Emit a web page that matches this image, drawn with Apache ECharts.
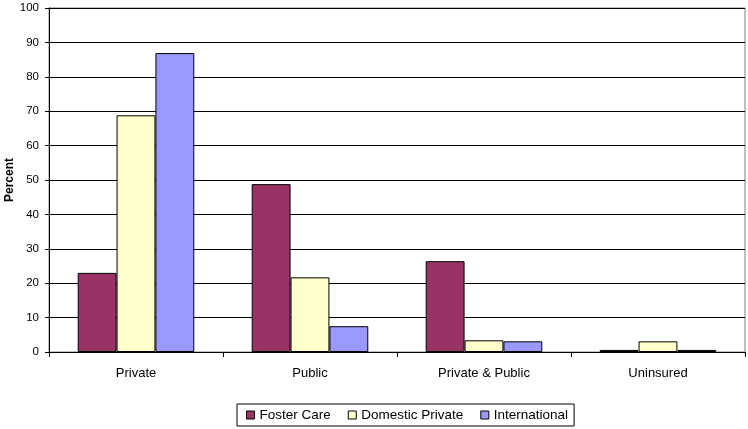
<!DOCTYPE html>
<html>
<head>
<meta charset="utf-8">
<script src="https://cdn.jsdelivr.net/npm/echarts@6/dist/echarts.min.js"></script>
<style>
html,body{margin:0;padding:0;background:#fff;}
#c{width:748px;height:429px;}
</style>
</head>
<body>
<div id="c"></div>
<script>
const categories = ['Private', 'Public', 'Private & Public', 'Uninsured'];
const fosterCare = [23, 48.8, 26.4, 0.6];
const domesticPrivate = [68.8, 21.7, 3.4, 3.1];
const international = [86.9, 7.5, 3.1, 0.6];
const seriesNames = ['Foster Care', 'Domestic Private', 'International'];
const seriesColors = ['#993366', '#FFFFCC', '#9999FF'];

const font = 'Liberation Sans, Arial, sans-serif';
const chart = echarts.init(document.getElementById('c'));
const values = [fosterCare, domesticPrivate, international];
chart.setOption({
  backgroundColor: '#ffffff',
  animation: false,
  textStyle: { fontFamily: font },
  grid: { left: 49, right: 3, top: 8, bottom: 77, containLabel: false, outerBoundsMode: 'none', show: true, borderColor: '#808080', borderWidth: 1 },
  legend: {
    left: 237, top: 404,
    padding: [4, 6, 4, 9],
    borderColor: '#000', borderWidth: 1,
    itemWidth: 8, itemHeight: 8, itemGap: 17,
    icon: 'rect',
    textStyle: { fontFamily: font, fontSize: 13.5, color: '#000' },
    data: seriesNames.map((n, i) => ({ name: n, itemStyle: { color: seriesColors[i], borderColor: '#000', borderWidth: 1 } }))
  },
  xAxis: {
    type: 'category',
    data: categories,
    axisLine: { lineStyle: { color: '#000', width: 1 } },
    axisTick: { show: true, length: 5, lineStyle: { color: '#000' } },
    axisLabel: { color: '#000', fontFamily: font, fontSize: 13, margin: 15 }
  },
  yAxis: {
    type: 'value',
    min: 0, max: 100, interval: 10,
    name: 'Percent',
    nameLocation: 'middle',
    nameRotate: 90,
    nameGap: 33,
    nameMoveOverlap: false,
    nameTextStyle: { fontFamily: font, fontSize: 12, fontWeight: 'bold', color: '#000' },
    axisLine: { show: true, lineStyle: { color: '#000', width: 1 } },
    axisTick: { show: true, length: 4, lineStyle: { color: '#000' } },
    axisLabel: { color: '#000', fontFamily: font, fontSize: 11.5, margin: 10 },
    splitLine: { lineStyle: { color: '#000', width: 1 } }
  },
  series: seriesNames.map((n, i) => ({
    name: n,
    type: 'bar',
    data: values[i],
    barGap: '0%',
    barCategoryGap: '33%',
    itemStyle: { color: seriesColors[i], borderColor: '#000', borderWidth: 1 }
  }))
});
</script>
</body>
</html>
